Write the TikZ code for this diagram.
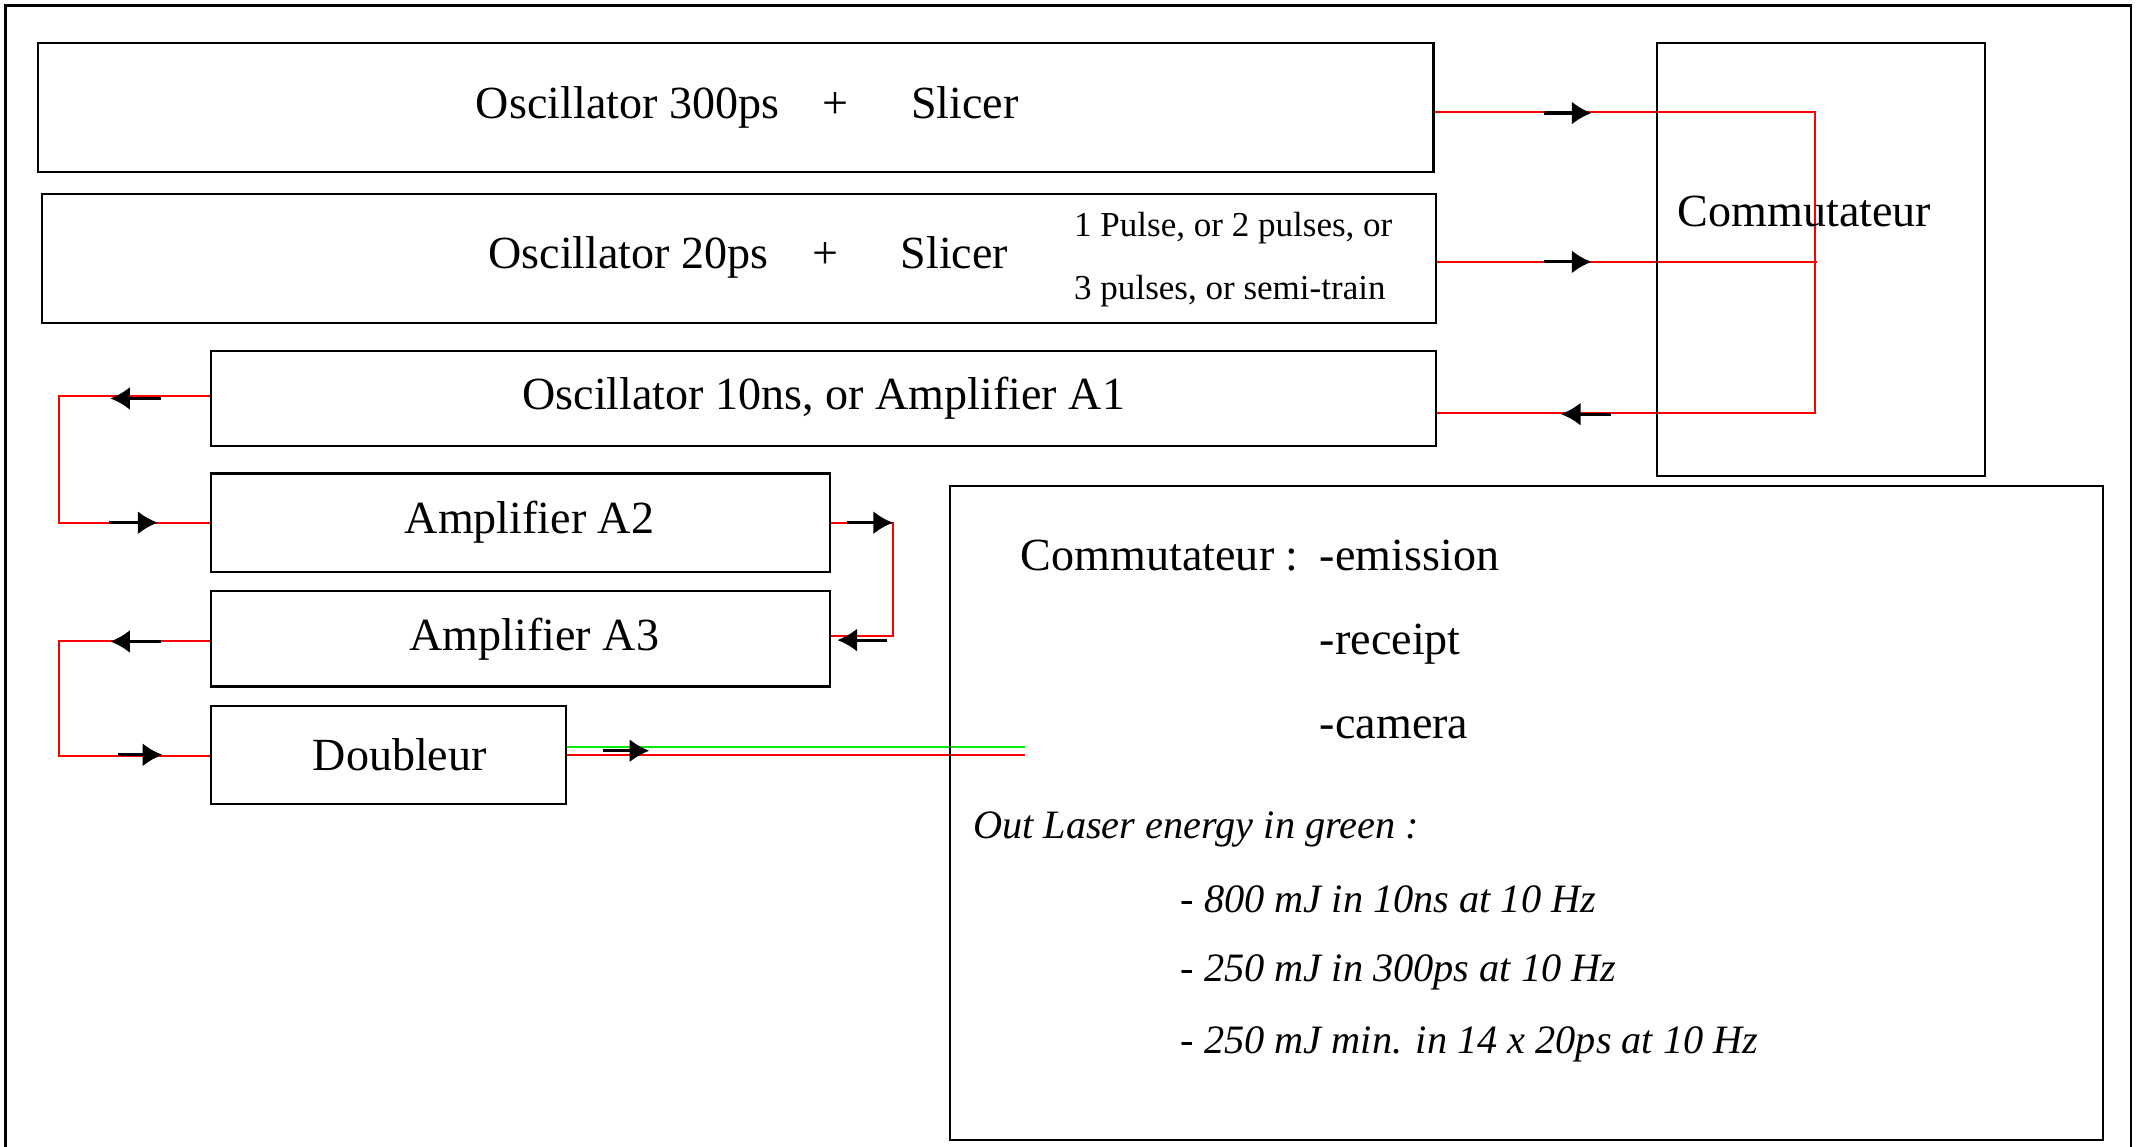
\documentclass[tikz,border=0pt]{standalone}
\usepackage{fontspec}
\setmainfont{Liberation Serif}
\usepackage{tikz}
\usetikzlibrary{arrows.meta,positioning,backgrounds}
\definecolor{lsRed}{RGB}{255,0,0}
\definecolor{lsGreen}{RGB}{0,235,0}

\begin{document}
\begin{tikzpicture}[>=Latex, font=\fontsize{9.6}{11.5}\selectfont]
\tikzstyle{unit}=[draw, line width=0.45pt, inner sep=0pt, anchor=north west]
\tikzstyle{beam}=[draw=lsRed, line width=0.42pt]
\tikzstyle{greenbeam}=[draw=lsGreen, line width=0.45pt]
\tikzstyle{dir}=[-{Latex[length=1.45mm,width=1.7mm]}, line width=0.65pt, yshift=-0.1mm]
\tikzstyle{txt}=[inner sep=0pt, anchor=base west]
\tikzstyle{spec}=[txt, font=\fontsize{8.4}{10}\selectfont\itshape]

\useasboundingbox (0,0) rectangle (15.68,-8.40);
\draw[line width=0.45pt] (0.04,-8.7) -- (0.04,-0.04) -- (15.605,-0.04) -- (15.605,-8.7);

% laser chain
\node[unit, minimum width=10.22cm, minimum height=0.94cm] (osc300) at (0.27,-0.31) {\hspace*{1.7mm}Oscillator 300ps\hspace{0.95em}+\hspace{1.35em}Slicer};
\node[unit, minimum width=10.21cm, minimum height=0.95cm] (osc20) at (0.30,-1.41) {};
\node[anchor=center, inner sep=0pt] (osc20lbl) at (5.48,-1.885) {Oscillator 20ps\hspace{0.95em}+\hspace{1.35em}Slicer};
\node[inner sep=0pt, anchor=west, align=left, font=\fontsize{7.3}{13}\selectfont] (pulses) at (7.86,-1.90) {1 Pulse, or 2 pulses, or\\3 pulses, or semi-train};
\node[unit, minimum width=8.97cm, minimum height=0.70cm] (osc10) at (1.54,-2.56) {Oscillator 10ns, or Amplifier A1};
\node[unit, minimum width=4.53cm, minimum height=0.72cm] (ampA2) at (1.54,-3.46) {\hspace*{1.3mm}Amplifier A2};
\node[unit, minimum width=4.53cm, minimum height=0.70cm] (ampA3) at (1.54,-4.32) {\hspace*{2mm}Amplifier A3};
\node[unit, minimum width=2.60cm, minimum height=0.72cm] (doubleur) at (1.54,-5.16) {\hspace*{1.6mm}Doubleur};

% switch and summary
\node[unit, minimum width=2.40cm, minimum height=3.17cm] (commut) at (12.13,-0.31) {};
\node[inner sep=0pt] (commutlbl) at (13.215,-1.55) {Commutateur};
\node[unit, minimum width=8.445cm, minimum height=4.79cm] (info) at (6.95,-3.55) {};

\node[txt] (cmtitle) at (7.47,-4.18) {Commutateur :};
\node[txt] (emis) at (9.66,-4.18) {-emission};
\node[txt] (recp) at (9.66,-4.79) {-receipt};
\node[txt] (cam) at (9.66,-5.41) {-camera};
\node[spec] (outtitle) at (7.12,-6.14) {Out Laser energy in green :};
\node[spec] (e800) at (8.64,-6.68) {- 800 mJ in 10ns at 10 Hz};
\node[spec] (e250) at (8.64,-7.19) {- 250 mJ in 300ps at 10 Hz};
\node[spec] (e250min) at (8.64,-7.715) {- 250 mJ min. in 14 x 20ps at 10 Hz};

\coordinate (busTop) at (13.29,-0.82);
\coordinate (busBot) at (13.29,-3.026);
\coordinate (redEnd) at (7.51,-5.53);
\coordinate (greenEnd) at (7.51,-5.47);

\begin{scope}[on background layer]
\draw[beam] (osc300.east |- busTop) -- (busTop) -- (busBot) -- (osc10.east |- busBot);
\draw[beam] ([yshift=-0.25mm]osc20.east) -- ++(2.78,0);
\draw[beam] ([yshift=0.15mm]osc10.west) -- ++(-1.11,0) |- (ampA2.west);
\draw[beam] (ampA2.east) -- ++(0.455,0) |- ([yshift=0.2mm]ampA3.east);
\draw[beam] ([yshift=-0.2mm]ampA3.west) -- ++(-1.11,0) |- ([yshift=-0.1mm]doubleur.west);
\draw[greenbeam] (doubleur.east |- greenEnd) -- (greenEnd);
\draw[beam] (doubleur.east |- redEnd) -- (redEnd);
\end{scope}

% direction marks
\draw[dir] ([xshift=8.0mm,yshift=-0.4mm]osc300.east) -- ++(3.5mm,0);
\draw[dir] ([xshift=7.8mm,yshift=-0.25mm]osc20.east) -- ++(3.5mm,0);
\draw[dir] ([xshift=12.7mm,yshift=-1.15mm]osc10.east) -- ++(-3.65mm,0);
\draw[dir] ([xshift=-3.64mm]osc10.west) -- ++(-3.69mm,0);
\draw[dir] ([xshift=-7.4mm]ampA2.west) -- ++(3.55mm,0);
\draw[dir] ([xshift=1.2mm]ampA2.east) -- ++(3.35mm,0);
\draw[dir] ([xshift=4.1mm,yshift=-0.1mm]ampA3.east) -- ++(-3.64mm,0);
\draw[dir] ([xshift=-3.64mm,yshift=-0.2mm]ampA3.west) -- ++(-3.69mm,0);
\draw[dir] ([xshift=-6.74mm]doubleur.west) -- ++(3.24mm,0);
\draw[dir] ([xshift=2.6mm,yshift=0.3mm]doubleur.east) -- ++(3.4mm,0);
\end{tikzpicture}
\end{document}
